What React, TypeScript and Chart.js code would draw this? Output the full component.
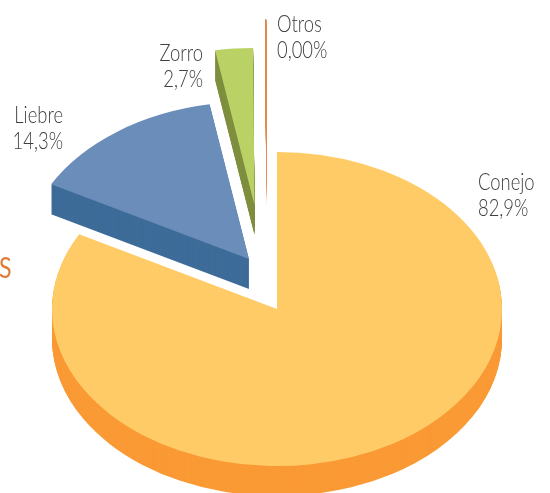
import React, { useEffect, useRef } from "react";
import { Chart, registerables } from "chart.js";

Chart.register(...registerables);

const categories = ["Conejo", "Liebre", "Zorro", "Otros"];
const shares = [82.9, 14.3, 2.7, 0.1];
const shareLabels = ["82,9%", "14,3%", "2,7%", "0,00%"];
const topColors = ["#FFCB66", "#6A8DB9", "#BAD265", "#E08A4E"];
const sideColors = ["#FA9A35", "#3E6C99", "#7F8F3F", "#E08A4E"];

const W = 550;
const H = 493;
const RADIUS = 225;
const TILT = 0.698;
const DEPTH = 30;
const apex = [
  [277, 309],
  [249, 259],
  [254.5, 205],
  [266.5, 176],
];
const labelPos = [
  { x: 478, y: 183, align: "left" },
  { x: 63, y: 116, align: "right" },
  { x: 203, y: 54, align: "right" },
  { x: 277, y: 25, align: "left" },
];
const LINE_GAP = 26;
const FONT = '300 23px Lato, "Open Sans", sans-serif';
const NARROW = 0.8;
const cutTitle = "S";

function narrowText(ctx: any, text: string, x: number, y: number) {
  ctx.save();
  ctx.translate(x, y);
  ctx.scale(NARROW, 1);
  ctx.fillText(text, 0, 0);
  ctx.restore();
}

const pie3d = {
  id: "pie3d",
  beforeDatasetsDraw(chart: any) {
    const { ctx } = chart;
    const arcs = chart.getDatasetMeta(0).data;
    for (let i = arcs.length - 1; i >= 0; i--) {
      const arc = arcs[i];
      const base = arc.options;
      arc.options = Object.assign(Object.create(base), { backgroundColor: sideColors[i] });
      for (let d = DEPTH; d >= 0; d--) {
        if (d === 0) arc.options = base;
        ctx.save();
        ctx.translate(apex[i][0], apex[i][1] + d);
        ctx.scale(1, TILT);
        ctx.translate(-arc.x, -arc.y);
        arc.draw(ctx);
        ctx.restore();
      }
    }
    return false;
  },
  afterDraw(chart: any) {
    const { ctx } = chart;
    ctx.save();
    ctx.font = FONT;
    ctx.fillStyle = "#404040";
    ctx.textBaseline = "middle";
    categories.forEach((name, i) => {
      const p = labelPos[i];
      ctx.textAlign = p.align;
      narrowText(ctx, name, p.x, p.y);
      narrowText(ctx, shareLabels[i], p.x, p.y + LINE_GAP);
    });
    ctx.font = '400 29px Lato, "Open Sans", sans-serif';
    ctx.fillStyle = "#E07B39";
    ctx.textAlign = "left";
    narrowText(ctx, cutTitle, -1, 269);
    ctx.restore();
  },
};

export default function App() {
  const ref = useRef<HTMLCanvasElement>(null);
  useEffect(() => {
    const chart = new Chart(ref.current!, {
      type: "pie",
      data: {
        labels: categories,
        datasets: [
          {
            data: shares,
            backgroundColor: topColors,
            borderWidth: 0,
            radius: RADIUS,
          },
        ],
      },
      options: {
        animation: false,
        responsive: false,
        events: [],
        plugins: { legend: { display: false }, tooltip: { enabled: false } },
      },
      plugins: [pie3d],
    } as any);
    return () => chart.destroy();
  }, []);
  return (
    <canvas
      ref={ref}
      width={W}
      height={H}
      style={{ position: "fixed", left: 0, top: 0, width: W, height: H, display: "block" }}
    />
  );
}
